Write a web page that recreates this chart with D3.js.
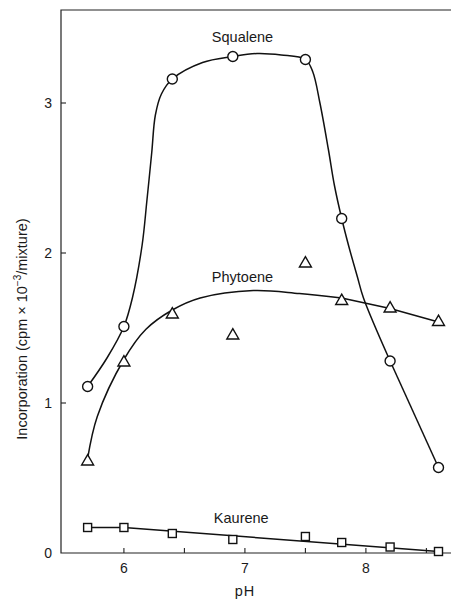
<!DOCTYPE html>
<html>
    <head>
        <title>Incorporation vs pH</title>
        <meta charset="UTF-8">
        <style>
            body {margin:0; background:#fff;}
            text {font-family: "Liberation Sans", sans-serif; fill:#1a1a1a;}
            .curve {fill:none; stroke:#111; stroke-width:1.5px;}
            .mark {fill:#fff; stroke:#111; stroke-width:1.4px;}
            .frame {stroke:#222; stroke-width:1.2px; fill:none;}
        </style>
        <script src="https://cdn.jsdelivr.net/npm/d3@7"></script>
    </head>
    <body>
        <svg width="451" height="600"></svg>

        <script>
            //... measured points (pH, cpm x 10^-3)
            var pH = [5.7, 6.0, 6.4, 6.9, 7.5, 7.8, 8.2, 8.6];
            var squalene = [1.11, 1.51, 3.16, 3.31, 3.29, 2.23, 1.28, 0.57];
            var phytoene = [0.61, 1.27, 1.59, 1.45, 1.93, 1.68, 1.63, 1.54];
            var kaurene  = [0.17, 0.17, 0.13, 0.09, 0.11, 0.07, 0.04, 0.01];

            //... hand-drawn fitted curves
            var squaleneCurve = [[5.7,1.11],[5.86,1.30],[6.0,1.51],[6.07,1.70],[6.15,2.05],[6.19,2.35],
                                 [6.23,2.67],[6.26,2.92],[6.31,3.06],[6.4,3.16],[6.65,3.27],[6.9,3.31],
                                 [7.1,3.33],[7.3,3.32],[7.5,3.29],[7.56,3.21],[7.62,3.0],[7.69,2.69],
                                 [7.74,2.45],[7.8,2.23],[7.86,2.04],[7.93,1.84],[7.98,1.70],[8.2,1.28]];
            var squaleneTail = [[8.2,1.28],[8.6,0.57]];
            var phytoeneCurve = [[5.7,0.63],[5.78,0.91],[6.0,1.29],[6.18,1.49],[6.4,1.62],[6.63,1.70],
                                 [7.07,1.75],[7.45,1.73],[7.8,1.70]];
            var phytoeneTail = [[7.8,1.70],[8.2,1.63],[8.6,1.54]];
            var kaureneLine = [[5.7,0.17],[6.0,0.17],[8.6,0.01]];

            var xTicks = [6, 6.5, 7, 7.5, 8, 8.5];
            var xLabels = [6, 7, 8];
            var yTicks = [0, 1, 2, 3];

            var labels = [
                {name:"Squalene", px:6.98, v:3.41},
                {name:"Phytoene", px:6.98, v:1.81},
                {name:"Kaurene",  px:6.97, v:0.20}
            ];

            var svg = d3.select("svg");
            var plotL = 61, plotR = 451, plotT = 10, plotB = 553;

            var x = d3.scaleLinear().domain([5.48, 8.70]).range([plotL, 450.6]);
            var y = d3.scaleLinear().domain([0, 3.62]).range([plotB, plotT]);

            //... frame: left, top, bottom (no right edge)
            svg.append("path").attr("class", "frame")
                .attr("d", "M" + plotR + "," + plotT + "H" + plotL + "V" + plotB + "H" + plotR);

            //... ticks point inward
            svg.append("g").selectAll("line").data(xTicks).enter().append("line")
                .attr("x1", d => x(d)).attr("x2", d => x(d))
                .attr("y1", plotB).attr("y2", plotB - 5)
                .attr("stroke", "#222").attr("stroke-width", 1.1);
            svg.append("g").selectAll("text").data(xLabels).enter().append("text")
                .attr("x", d => x(d)).attr("y", plotB + 20)
                .attr("text-anchor", "middle").style("font-size", "14px")
                .text(d => d);

            svg.append("g").selectAll("line").data(yTicks.slice(1)).enter().append("line")
                .attr("x1", plotL).attr("x2", plotL + 5)
                .attr("y1", d => y(d)).attr("y2", d => y(d))
                .attr("stroke", "#222").attr("stroke-width", 1.1);
            svg.append("g").selectAll("text").data(yTicks).enter().append("text")
                .attr("x", plotL - 9).attr("y", d => y(d) + 5)
                .attr("text-anchor", "end").style("font-size", "14px")
                .text(d => d);

            //... axis titles
            svg.append("text").attr("x", x(7.0)).attr("y", 596)
                .attr("text-anchor", "middle").style("font-size", "14.5px")
                .style("letter-spacing", "1px").text("pH");

            var yt = svg.append("text")
                .attr("transform", "translate(27,329) rotate(-90)")
                .attr("text-anchor", "middle").style("font-size", "14.5px");
            yt.append("tspan").text("Incorporation (cpm \u00d7 10");
            yt.append("tspan").attr("dy", -6).style("font-size", "10px").text("\u22123");
            yt.append("tspan").attr("dy", 6).text("/mixture)");

            //... curves
            var smooth = d3.line().x(d => x(d[0])).y(d => y(d[1])).curve(d3.curveCatmullRom.alpha(0.5));
            var straight = d3.line().x(d => x(d[0])).y(d => y(d[1]));

            svg.append("path").attr("class", "curve").attr("d", smooth(squaleneCurve));
            svg.append("path").attr("class", "curve").attr("d", straight(squaleneTail));
            svg.append("path").attr("class", "curve").attr("d", smooth(phytoeneCurve));
            svg.append("path").attr("class", "curve").attr("d", straight(phytoeneTail));
            svg.append("path").attr("class", "curve").attr("d", straight(kaureneLine));

            //... markers
            svg.append("g").selectAll("circle").data(pH).enter().append("circle")
                .attr("class", "mark")
                .attr("cx", d => x(d)).attr("cy", (d, i) => y(squalene[i])).attr("r", 5);

            var tri = d3.symbol().type(d3.symbolTriangle).size(62);
            svg.append("g").selectAll("path").data(pH).enter().append("path")
                .attr("class", "mark").attr("d", tri)
                .attr("transform", (d, i) => "translate(" + x(d) + "," + y(phytoene[i]) + ")");

            svg.append("g").selectAll("rect").data(pH).enter().append("rect")
                .attr("class", "mark")
                .attr("x", d => x(d) - 4).attr("y", (d, i) => y(kaurene[i]) - 4)
                .attr("width", 8).attr("height", 8);

            //... series names
            svg.append("g").selectAll("text").data(labels).enter().append("text")
                .attr("x", d => x(d.px)).attr("y", d => y(d.v))
                .attr("text-anchor", "middle").style("font-size", "14.5px")
                .text(d => d.name);
        </script>
    </body>
</html>
